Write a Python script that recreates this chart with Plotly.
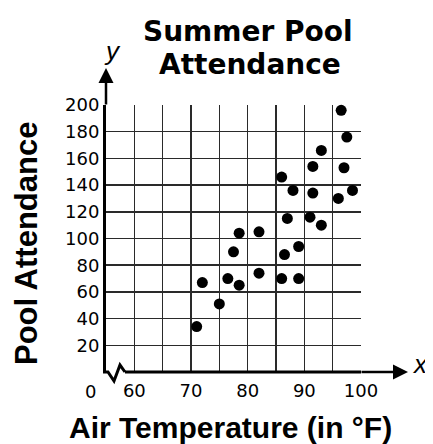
import plotly.graph_objects as go

# ---- data ----
temperature_f = [71, 72, 75, 76.5, 78.5, 77.5, 78.5, 82, 82, 86, 89, 86.5, 89,
                 86, 88, 87, 91, 93, 91.5, 91.5, 93, 96, 98.5, 97, 97.5, 96.5]
attendance = [34, 67, 51, 70, 65, 90, 104, 105, 74, 70, 70, 88, 94,
              146, 136, 115, 116, 110, 134, 154, 166, 130, 136, 153, 176, 196]

x_tick_values = [60, 70, 80, 90, 100]
x_tick_labels = ["60", "70", "80", "90", "100"]
y_tick_values = [20, 40, 60, 80, 100, 120, 140, 160, 180, 200]
y_tick_labels = ["20", "40", "60", "80", "100", "120", "140", "160", "180", "200"]

title_lines = ["Summer Pool", "Attendance"]
x_title = "Air Temperature (in °F)"
y_title = "Pool Attendance"

# ---- layout geometry (screen pixels; page body has an 8px margin) ----
OFF = 8
W, H = 433, 444
L, Rx, T, By = 106, 361, 105, 372   # plot edges in screen pixels
FW, FH = W - OFF, H - OFF            # figure size
PW, PH = Rx - L, By - T


def px(x):
    return (x - L) / PW


def py(y):
    return (By - y) / PH


BOLD = "Liberation Sans, Arial, Helvetica, sans-serif"
WIDEBOLD = "DejaVu Sans, Liberation Sans, sans-serif"
TICKF = "DejaVu Sans, Arial, sans-serif"
GRID = "#2a2a2a"

fig = go.Figure(
    go.Scatter(
        x=temperature_f, y=attendance, mode="markers",
        marker=dict(color="black", size=11, line=dict(width=0)),
        cliponaxis=False, hoverinfo="skip",
    )
)

fig.update_layout(
    width=FW, height=FH,
    margin=dict(l=L - OFF, r=FW - (Rx - OFF), t=T - OFF, b=FH - (By - OFF), pad=0),
    paper_bgcolor="white", plot_bgcolor="white",
    showlegend=False,
    xaxis=dict(
        range=[55, 100], tickmode="array", tickvals=x_tick_values, ticktext=x_tick_labels,
        showgrid=True, gridcolor=GRID, gridwidth=1.5,
        minor=dict(tickmode="linear", tick0=55, dtick=5, showgrid=True, gridcolor=GRID, gridwidth=1.5, ticks=""),
        showline=False, zeroline=False, ticks="",
        tickfont=dict(family=TICKF, size=18, color="black"),
        ticklabelstandoff=6, fixedrange=True,
    ),
    yaxis=dict(
        range=[0, 200], tickmode="array", tickvals=y_tick_values, ticktext=y_tick_labels,
        showgrid=True, gridcolor=GRID, gridwidth=1.5,
        showline=True, linecolor="black", linewidth=3, zeroline=False, ticks="",
        tickfont=dict(family=TICKF, size=18, color="black"),
        ticklabelstandoff=0, fixedrange=True,
    ),
)

# bottom axis with break zigzag
zig = [(103, 372), (108, 372), (114, 381), (120, 365), (125, 372)]
path = "M " + " L ".join(f"{px(a):.4f},{py(b):.4f}" for a, b in zig)
fig.add_shape(type="path", path=path, xref="paper", yref="paper",
              line=dict(color="black", width=3))
fig.add_shape(type="line", xref="paper", yref="paper", x0=px(125), y0=0, x1=1, y1=0,
              line=dict(color="black", width=3))


def label(x, y, text, size, family=BOLD, angle=0):
    return dict(xref="paper", yref="paper", x=px(x), y=py(y), text=text, showarrow=False,
                xanchor="center", yanchor="middle", textangle=angle,
                font=dict(family=family, size=size, color="black"))


annotations = []
# axis arrows
annotations.append(dict(xref="paper", yref="paper", x=0, y=py(68), text="", showarrow=True,
                        ax=0, ay=38, arrowhead=2, arrowsize=1.2, arrowwidth=2.5, arrowcolor="black"))
annotations.append(dict(xref="paper", yref="paper", x=px(408), y=0, text="", showarrow=True,
                        ax=-48, ay=0, arrowhead=2, arrowsize=1.2, arrowwidth=2.5, arrowcolor="black"))
# axis letters
annotations.append(label(112, 51, "<i>y</i>", 26))
annotations.append(label(420, 364, "<i>x</i>", 26))
# origin label
annotations.append(label(90, 391, "0", 18, TICKF))
# titles
annotations.append(label(248, 31, f"<b>{title_lines[0]}</b>", 28, WIDEBOLD))
annotations.append(label(250, 64, f"<b>{title_lines[1]}</b>", 28, WIDEBOLD))
annotations.append(label(230, 427, f"<b>{x_title}</b>", 30))
annotations.append(label(27, 244, f"<b>{y_title}</b>", 31, angle=-90))
fig.update_layout(annotations=annotations)

fig.write_html("out.html", config=dict(displayModeBar=False, staticPlot=True))
